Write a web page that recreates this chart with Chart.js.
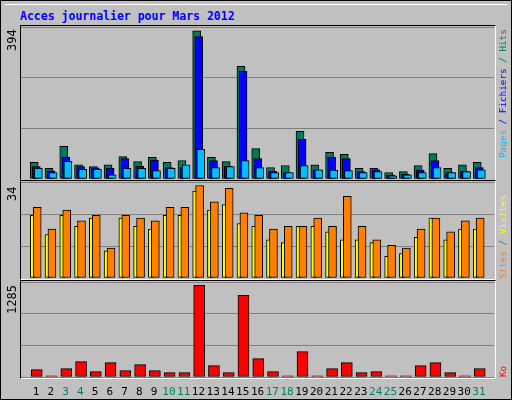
<!DOCTYPE html>
<html><head><meta charset="utf-8">
<script src="https://cdn.jsdelivr.net/npm/chart.js@4/dist/chart.umd.min.js"></script>
<style>
body{margin:0;background:#fff}
#wrap{position:relative;width:510px;height:398px;border:1px solid #000;background:#c0c0c0;overflow:hidden;font-family:"DejaVu Sans Mono",monospace}
.box{position:absolute;border-top:1px solid #000;border-left:1px solid #000;border-right:1px solid #fff;border-bottom:1px solid #fff;pointer-events:none;box-sizing:border-box}
canvas{position:absolute}
.rot{position:absolute;transform-origin:0 0;transform:rotate(-90deg);white-space:nowrap;font-size:12px;line-height:13px}
.leg{font-size:9.3px;line-height:12px}
</style></head><body>
<div id="wrap">
<div style="position:absolute;left:3px;top:3px;width:504px;border-top:1px solid #fff"></div>
<div style="position:absolute;left:19px;top:8px;color:#0000ff;font-weight:bold;font-size:11.5px">Acces journalier pour Mars 2012</div>
<canvas id="c1" style="left:20px;top:26px"></canvas>
<canvas id="c2" style="left:20px;top:181px"></canvas>
<canvas id="c3" style="left:20px;top:281px"></canvas>
<div class="box" style="left:19px;top:24px;width:476px;height:156px"></div>
<div class="box" style="left:19px;top:179px;width:476px;height:100px"></div>
<div class="box" style="left:19px;top:279px;width:476px;height:99px"></div>
<div class="rot" style="left:5px;top:50px;color:#000">394</div>
<div class="rot" style="left:5px;top:200px;color:#000">34</div>
<div class="rot" style="left:5px;top:313px;color:#000">1285</div>
<div class="rot leg" style="left:496px;top:157px"><span style="color:#00bfff">Pages</span> <span style="color:#0000ff">/ Fichiers</span> <span style="color:#008060">/ Hits</span></div>
<div class="rot leg" style="left:496px;top:278px"><span style="color:#ff8000">Sites</span> <span style="color:#606060">/</span> <span style="color:#ffff00">Visites</span></div>
<div class="rot leg" style="left:496px;top:376px;color:#ff0000">Ko</div>
</div>
<script>
const days=[1,2,3,4,5,6,7,8,9,10,11,12,13,14,15,16,17,18,19,20,21,22,23,24,25,26,27,28,29,30,31];
const weekend=[3,4,10,11,17,18,24,25,31];
const hits=[43,28,85,37,32,37,58,45,56,43,48,385,56,45,293,79,30,35,124,37,69,64,28,28,17,19,35,66,28,37,43];
const files=[32,21,57,32,29,28,53,33,49,30,30,370,48,33,280,53,20,17,103,24,57,53,19,24,10,12,23,48,17,20,30];
const pages=[28,17,46,25,25,11,28,28,22,28,37,77,30,32,48,30,17,17,35,24,23,22,17,19,8,11,17,30,17,19,24];
const sites=[23,16,23,19,22,10,22,19,18,23,23,32,25,27,20,19,14,13,19,19,17,14,14,13,8,9,15,22,14,18,18];
const visits=[26,18,25,21,23,11,23,22,21,26,26,34,28,33,24,23,18,19,19,22,19,30,19,14,12,11,18,22,17,21,22];
const ko=[103,15,117,216,75,202,89,174,89,61,61,1285,160,61,1144,258,75,15,356,15,117,202,61,75,15,15,160,202,61,15,117];

function pts(arr,off){return arr.map((v,i)=>({x:days[i]+off,y:v}));}
function ds(arr,off,color,w,order){return {data:pts(arr,off),backgroundColor:color,borderColor:'#000',borderWidth:1,borderSkipped:false,barThickness:w,grouped:false,order:order};}
function mk(id,h,datasets,max,withX){
  const c=document.getElementById(id);c.width=473;c.height=h;
  return new Chart(c,{type:'bar',data:{datasets},options:{
    responsive:false,animation:false,devicePixelRatio:1,
    layout:{padding:0},
    plugins:{legend:{display:false},tooltip:{enabled:false}},
    scales:{
      x:{type:'linear',min:0.5,max:31.5,display:withX,grid:{display:false},border:{display:false},
         afterBuildTicks:s=>{s.ticks=days.map(d=>({value:d}));},
         afterFit:s=>{s.height=withX?20:0;},
         ticks:{autoSkip:false,maxRotation:0,padding:1,font:{family:'DejaVu Sans Mono',size:11},
           color:ctx=>weekend.includes(ctx.tick.value)?'#008060':'#000',callback:v=>String(v)}},
      y:{min:0,max:max,display:true,ticks:{display:false,stepSize:max/3},border:{display:false},
         grid:{color:'#808080',lineWidth:1,drawTicks:false}}
    }}});
}
mk('c1',152,[ds(hits,-0.12,'#007a5c',8,3),ds(files,0.02,'#0000ff',8,2),ds(pages,0.16,'#00bfff',8,1)],395,false);
mk('c2',96,[ds(sites,-0.22,'#ffff00',5,2),ds(visits,0.08,'#ff8000',8,1)],35.3,false);
mk('c3',115,[ds(ko,0.05,'#ff0000',11,1)],1332,true);
</script>
</body></html>
